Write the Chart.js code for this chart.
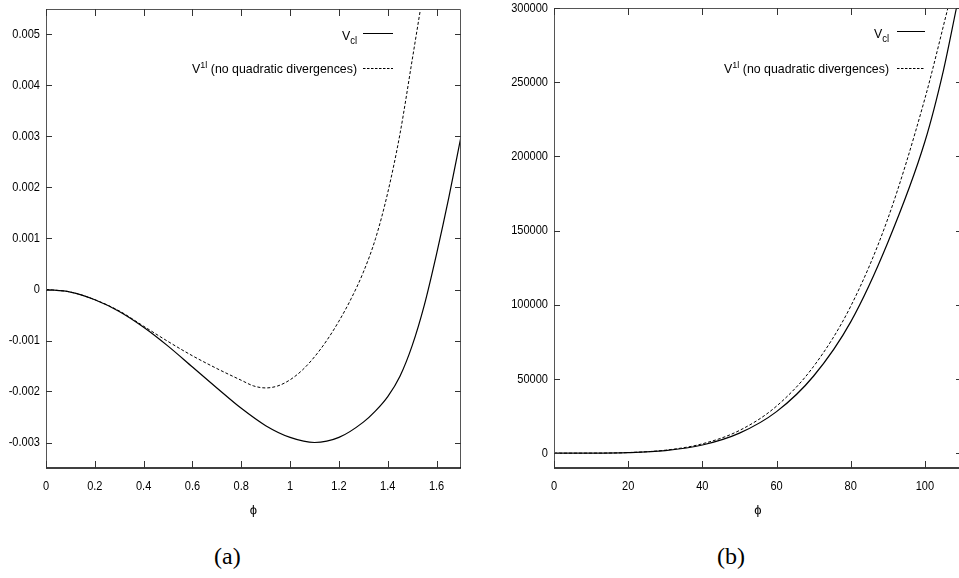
<!DOCTYPE html>
<html>
<head>
<meta charset="utf-8">
<script src="https://cdn.jsdelivr.net/npm/chart.js@4.4.1/dist/chart.umd.min.js"></script>
<style>
  body { margin: 0; background: #fff; overflow: hidden; width: 959px; height: 578px; position: relative; }
  canvas { position: absolute; top: 0; }
  #graficoA { left: 0; }
  #graficoB { left: 480px; }
  .legenda { position: absolute; top: 543px; font-family: "Liberation Serif", "DejaVu Serif", serif; font-size: 24px; color: #000; }
</style>
</head>
<body>
<canvas id="graficoA" width="470" height="530"></canvas>
<canvas id="graficoB" width="490" height="530"></canvas>
<div class="legenda" style="left:214px">(a)</div>
<div class="legenda" style="left:717px">(b)</div>

<script>
// --- dados do painel (a) ---
const phiClA = [0, 0.1, 0.2, 0.3, 0.4, 0.5, 0.6, 0.7, 0.8, 0.9, 1.0, 1.1, 1.2, 1.3, 1.35, 1.4, 1.45, 1.5, 1.55, 1.6, 1.65, 1.7];
const vClA   = [0, -0.00005, -0.0002, -0.00043, -0.00074, -0.00111, -0.00152, -0.00193, -0.00233, -0.00267,
                -0.0029, -0.003, -0.0029, -0.0026, -0.00238, -0.0021, -0.0017, -0.0011, -0.0003, 0.0007, 0.0018, 0.003];
const phi1lA = [0, 0.1, 0.2, 0.3, 0.4, 0.5, 0.6, 0.7, 0.8, 0.85, 0.9, 0.95, 1.0, 1.05, 1.1, 1.15, 1.2, 1.25, 1.3, 1.35, 1.4, 1.45, 1.5, 1.534];
const v1lA   = [0, -0.00005, -0.0002, -0.00042, -0.00072, -0.00102, -0.0013, -0.00155, -0.00178, -0.00189, -0.00193,
                -0.00189, -0.00177, -0.00158, -0.00132, -0.001, -0.00062, -0.00018, 0.00034, 0.001, 0.0019, 0.00305, 0.0045, 0.0055];
const xTicksA = [0, 0.2, 0.4, 0.6, 0.8, 1, 1.2, 1.4, 1.6];
const yTicksA = [-0.003, -0.002, -0.001, 0, 0.001, 0.002, 0.003, 0.004, 0.005];

// --- dados do painel (b) ---
const phiClB = [0, 10, 20, 30, 40, 50, 60, 70, 80, 90, 100, 105, 108.5];
const vClB   = [0, 20, 350, 1750, 5500, 13500, 28000, 52000, 88500, 142000, 210000, 258000, 300000];
const phi1lB = [0, 10, 20, 30, 40, 50, 60, 70, 80, 90, 100, 106.2];
const v1lB   = [0, 25, 400, 2000, 6300, 15300, 31700, 58500, 99000, 158000, 239000, 300000];
const xTicksB = [0, 20, 40, 60, 80, 100];
const yTicksB = [0, 50000, 100000, 150000, 200000, 250000, 300000];

const nomeCl = [['V', 13, 0], ['cl', 10, 3.5]];
const nome1l = [['V', 13, 0], ['1l', 9.5, -5.5], [' (no quadratic divergences)', 13, 0]];

const FONTE = '"Liberation Sans", Arial, sans-serif';
const APERTO = 0.85; // a fonte original é estreita

function pontos(xs, ys) {
    return xs.map((x, i) => ({ x: x, y: ys[i] }));
}

// escreve um texto comprimido na horizontal
function textoEstreito(ctx, txt, x, y, alinh, fator) {
    ctx.save();
    ctx.translate(x, y);
    ctx.scale(fator, 1);
    ctx.textAlign = alinh;
    ctx.fillText(txt, 0, 0);
    ctx.restore();
}

/**
 * Moldura estilo gnuplot com marcas para dentro nos quatro lados + rótulos dos eixos.
 */
const molduraPlugin = {
    id: 'moldura',
    afterDatasetsDraw(chart) {
        const { ctx, chartArea: a, scales } = chart;
        const sx = scales.x, sy = scales.y;
        ctx.save();
        ctx.lineWidth = 1;
        ctx.strokeStyle = '#555';
        ctx.beginPath();
        ctx.moveTo(a.left + 0.5, a.bottom);
        ctx.lineTo(a.left + 0.5, a.top + 0.5);
        ctx.lineTo(a.right - 0.5, a.top + 0.5);
        ctx.lineTo(a.right - 0.5, a.bottom);
        ctx.stroke();
        ctx.strokeStyle = '#000';
        ctx.lineWidth = 1.5;
        ctx.beginPath();
        ctx.moveTo(a.left, a.bottom);
        ctx.lineTo(a.right, a.bottom);
        ctx.stroke();

        ctx.lineWidth = 1;
        ctx.strokeStyle = '#333';
        ctx.beginPath();
        sx.ticks.forEach(t => {
            const px = Math.round(sx.getPixelForValue(t.value)) + 0.5;
            ctx.moveTo(px, a.bottom); ctx.lineTo(px, a.bottom - 7);
            ctx.moveTo(px, a.top); ctx.lineTo(px, a.top + 7);
        });
        sy.ticks.forEach(t => {
            const py = Math.round(sy.getPixelForValue(t.value)) + 0.5;
            ctx.moveTo(a.left, py); ctx.lineTo(a.left + 6, py);
            ctx.moveTo(a.right, py); ctx.lineTo(a.right - 6, py);
        });
        ctx.stroke();

        // rótulos
        ctx.fillStyle = '#000';
        ctx.font = '13px ' + FONTE;
        ctx.textBaseline = 'middle';
        sx.ticks.forEach(t => {
            textoEstreito(ctx, String(t.value), sx.getPixelForValue(t.value), a.bottom + 18, 'center', APERTO);
        });
        sy.ticks.forEach(t => {
            textoEstreito(ctx, String(t.value), a.left - 6, sy.getPixelForValue(t.value), 'right', APERTO);
        });
        ctx.restore();
    }
};

/**
 * Legenda desenhada à mão (precisa de subscrito e sobrescrito).
 */
const legendaPlugin = {
    id: 'legendaManual',
    afterDraw(chart, args, opts) {
        const ctx = chart.ctx;
        const k = 0.95;
        ctx.save();
        opts.linhas.forEach(l => {
            let largura = 0;
            l.partes.forEach(p => { ctx.font = p[1] + 'px ' + FONTE; largura += ctx.measureText(p[0]).width * k; });
            let x = opts.fimTexto - largura;
            ctx.fillStyle = '#000';
            ctx.textBaseline = 'alphabetic';
            l.partes.forEach(p => {
                ctx.font = p[1] + 'px ' + FONTE;
                textoEstreito(ctx, p[0], x, l.base + p[2], 'left', k);
                x += ctx.measureText(p[0]).width * k;
            });
            ctx.strokeStyle = '#000';
            ctx.lineWidth = 1;
            ctx.setLineDash(l.tracejado ? [2.5, 1.5] : []);
            ctx.beginPath();
            ctx.moveTo(opts.amostra[0], l.y + 0.5);
            ctx.lineTo(opts.amostra[1], l.y + 0.5);
            ctx.stroke();
        });
        ctx.restore();
    }
};

function criarGrafico(id, cl, um, xr, yr, xTicks, yTicks, larguraY, padding, legenda) {
    const ctx = document.getElementById(id).getContext('2d');
    return new Chart(ctx, {
        type: 'line',
        data: {
            datasets: [
                { data: cl, borderColor: '#000', borderWidth: 1.2, pointRadius: 0, cubicInterpolationMode: 'monotone' },
                { data: um, borderColor: '#000', borderWidth: 1, borderDash: [3, 2], pointRadius: 0, cubicInterpolationMode: 'monotone' }
            ]
        },
        options: {
            responsive: false,
            animation: false,
            layout: { padding: padding },
            plugins: {
                legend: { display: false },
                tooltip: { enabled: false },
                legendaManual: legenda
            },
            scales: {
                x: {
                    type: 'linear', min: xr[0], max: xr[1],
                    grid: { display: false, drawTicks: false },
                    border: { display: false },
                    afterBuildTicks: s => { s.ticks = xTicks.map(v => ({ value: v })); },
                    afterFit: s => { s.height = 62; },
                    ticks: { display: false },
                    title: { display: true, text: 'ϕ', color: '#000', font: { family: FONTE, size: 13 }, padding: { top: 0, bottom: 12 } }
                },
                y: {
                    type: 'linear', min: yr[0], max: yr[1],
                    grid: { display: false, drawTicks: false },
                    border: { display: false },
                    afterBuildTicks: s => { s.ticks = yTicks.map(v => ({ value: v })); },
                    afterFit: s => { s.width = larguraY; },
                    ticks: { display: false }
                }
            }
        },
        plugins: [molduraPlugin, legendaPlugin]
    });
}

criarGrafico('graficoA', pontos(phiClA, vClA), pontos(phi1lA, v1lA), [0, 1.7], [-0.0035, 0.0055],
    xTicksA, yTicksA, 46, { left: 0, top: 9, right: 9, bottom: 0 },
    { fimTexto: 357, amostra: [363, 393],
      linhas: [{ partes: nomeCl, y: 33, base: 40, tracejado: false }, { partes: nome1l, y: 68, base: 73, tracejado: true }] });

criarGrafico('graficoB', pontos(phiClB, vClB), pontos(phi1lB, v1lB), [0, 110], [-10000, 300000],
    xTicksB, yTicksB, 74, { left: 0, top: 8, right: 8, bottom: 0 },
    { fimTexto: 409, amostra: [417, 445],
      linhas: [{ partes: nomeCl, y: 31, base: 38, tracejado: false }, { partes: nome1l, y: 68, base: 73, tracejado: true }] });
</script>
</body>
</html>
